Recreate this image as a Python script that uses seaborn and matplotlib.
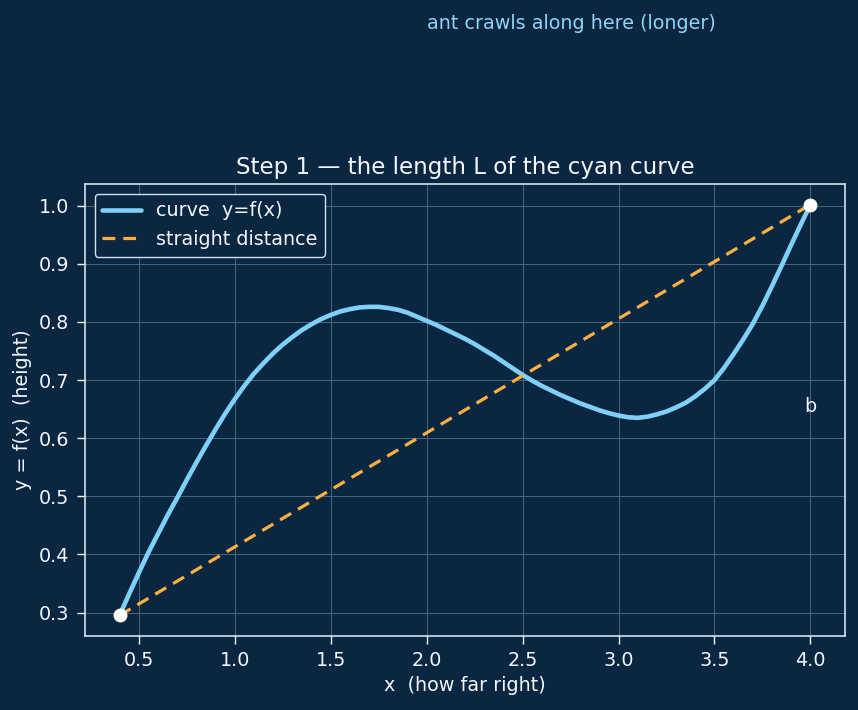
import numpy as np
import pandas as pd
import matplotlib.pyplot as plt
import seaborn as sns

# curve values
x_curve = [0.40, 0.45, 0.50, 0.55, 0.60, 0.65, 0.70, 0.75, 0.80, 0.85,
           0.90, 0.95, 1.00, 1.05, 1.10, 1.15, 1.20, 1.25, 1.30, 1.35,
           1.40, 1.45, 1.50, 1.55, 1.60, 1.65, 1.70, 1.75, 1.80, 1.85,
           1.90, 1.95, 2.00, 2.05, 2.10, 2.15, 2.20, 2.25, 2.30, 2.35,
           2.40, 2.45, 2.50, 2.55, 2.60, 2.65, 2.70, 2.75, 2.80, 2.85,
           2.90, 2.95, 3.00, 3.05, 3.10, 3.15, 3.20, 3.25, 3.30, 3.35,
           3.40, 3.45, 3.50, 3.55, 3.60, 3.65, 3.70, 3.75, 3.80, 3.85,
           3.90, 3.95, 4.00]
y_curve = [0.295, 0.332, 0.368, 0.403, 0.435, 0.467, 0.497, 0.528, 0.558, 0.587,
           0.615, 0.642, 0.667, 0.690, 0.711, 0.729, 0.746, 0.761, 0.774, 0.786,
           0.796, 0.805, 0.812, 0.818, 0.822, 0.825, 0.826, 0.826, 0.824, 0.821,
           0.816, 0.809, 0.802, 0.795, 0.787, 0.779, 0.771, 0.762, 0.752, 0.742,
           0.731, 0.720, 0.709, 0.699, 0.690, 0.682, 0.674, 0.667, 0.660, 0.654,
           0.648, 0.643, 0.639, 0.636, 0.635, 0.637, 0.641, 0.646, 0.653, 0.661,
           0.672, 0.685, 0.700, 0.721, 0.745, 0.770, 0.797, 0.828, 0.862, 0.897,
           0.933, 0.968, 1.002]

# straight chord between the two end points
x_chord = [0.4, 4.0]
y_chord = [0.295, 1.002]

BG = '#0b2640'
FG = '#f2f6fa'
FS = 13.8

sns.set_theme(style='darkgrid', rc={
    'figure.facecolor': BG, 'axes.facecolor': BG,
    'axes.edgecolor': '#cfe2ef', 'axes.linewidth': 1.2,
    'grid.color': '#4b6781', 'grid.linewidth': 0.7,
    'text.color': FG, 'axes.labelcolor': FG,
    'xtick.color': FG, 'ytick.color': FG,
    'xtick.bottom': True, 'ytick.left': True,
    'xtick.major.size': 6, 'ytick.major.size': 6,
    'xtick.major.pad': 5, 'ytick.major.pad': 5.5,
    'xtick.major.width': 1, 'ytick.major.width': 1,
})
plt.rcParams['font.family'] = ['DejaVu Sans']

fig = plt.figure(figsize=(8.58, 7.1), dpi=100)
ax = fig.add_axes([85 / 858, 74 / 710, 760 / 858, 452 / 710])

df_curve = pd.DataFrame({'x': x_curve, 'y': y_curve})
df_chord = pd.DataFrame({'x': x_chord, 'y': y_chord})

sns.lineplot(data=df_curve, x='x', y='y', ax=ax, color='#7fd0f7', lw=3.3,
             label='curve  y=f(x)', sort=False)
sns.lineplot(data=df_chord, x='x', y='y', ax=ax, color='#fbb040', lw=2.3,
             ls=(0, (4, 2.5)), label='straight distance')
ax.plot(x_chord, y_chord, 'o', color='white', ms=9, zorder=5)

for s in ax.spines.values():
    s.set_visible(True)

ax.set_xlim(0.22, 4.18)
ax.set_ylim(0.2596, 1.0374)
ax.set_xticks([0.5, 1.0, 1.5, 2.0, 2.5, 3.0, 3.5, 4.0])
ax.tick_params(labelsize=FS)

ax.text(4.0, 0.655, 'b', ha='center', va='center', fontsize=FS, color=FG)
ax.text(2.0, 1.313, 'ant crawls along here (longer)', ha='left', va='center',
        fontsize=FS, color='#8fd3f5', clip_on=False)

ax.set_title('Step 1 \u2014 the length L of the cyan curve', fontsize=16.6,
             color=FG, pad=7)
ax.set_xlabel('x  (how far right)', fontsize=FS, labelpad=4)
ax.set_ylabel('y = f(x)  (height)', fontsize=FS, labelpad=5)

leg = ax.legend(loc='upper left', fontsize=FS, facecolor=BG, edgecolor='#cfe2ef',
                framealpha=1)
for t in leg.get_texts():
    t.set_color(FG)

fig.savefig('out.png', dpi=100, facecolor=BG)
